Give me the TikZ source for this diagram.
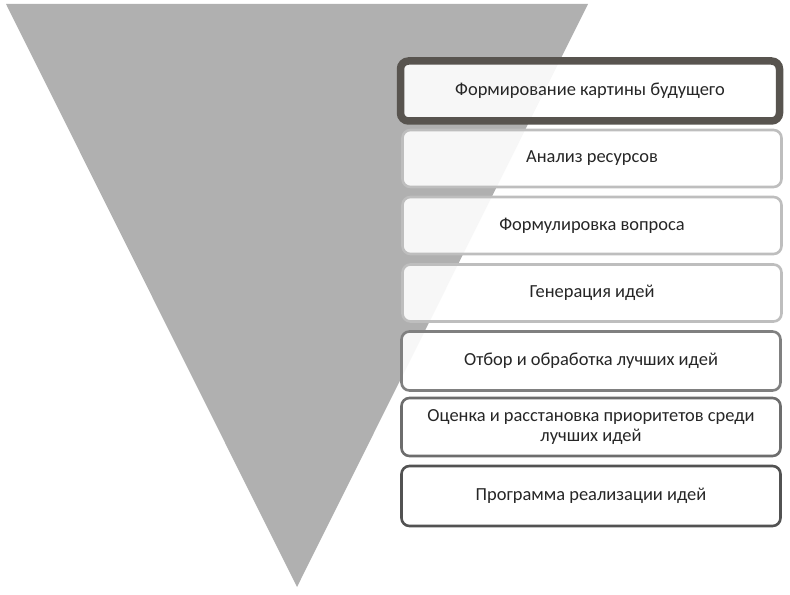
\documentclass[tikz,border=0pt]{standalone}
\usepackage{fontspec}
\setmainfont{Carlito}
\definecolor{FunnelGray}{RGB}{176, 176, 176}
\definecolor{EdgeDark}{RGB}{88, 84, 79}
\definecolor{EdgeLight}{RGB}{190, 190, 190}
\definecolor{EdgeMid}{RGB}{128, 128, 128}
\definecolor{EdgeDeep}{RGB}{82, 82, 82}
\newcommand{\lw}{2.6bp}

\begin{document}
\begin{tikzpicture}[x=1bp, y=-1bp,
  stage/.style={draw, line width=\lw, rounded corners=8bp, fill=white,
    fill opacity=0.9, text opacity=1, text=black!85,
    minimum width=379bp, minimum height=57bp, align=center,
    font=\fontsize{18.5}{21}\selectfont}]
  \useasboundingbox (0,0) rectangle (790,595);
  % funnel
  \fill[FunnelGray] (6,4) -- (588,4) -- (297,587) -- cycle;
  % stages
  \node[stage, draw=EdgeDark, line width=7.5bp, minimum height=60bp] (form)  at (590,91)    {Формирование картины будущего};
  \node[stage, draw=EdgeLight] (anal)  at (592,158.5) {Анализ ресурсов};
  \node[stage, draw=EdgeLight] (quest) at (592,225.5) {Формулировка вопроса};
  \node[stage, draw=EdgeLight] (gen)   at (592,293)   {Генерация идей};
  \node[stage, draw=EdgeMid, minimum height=59bp]   (sel)  at (591,361) {Отбор и обработка лучших идей};
  \node[stage, draw=EdgeMid!85!black, minimum height=58bp] (rank) at (591,427) {Оценка и расстановка приоритетов среди\\лучших идей};
  \node[stage, draw=EdgeDeep, minimum height=60bp]  (prog) at (591,496) {Программа реализации идей};
\end{tikzpicture}
\end{document}
